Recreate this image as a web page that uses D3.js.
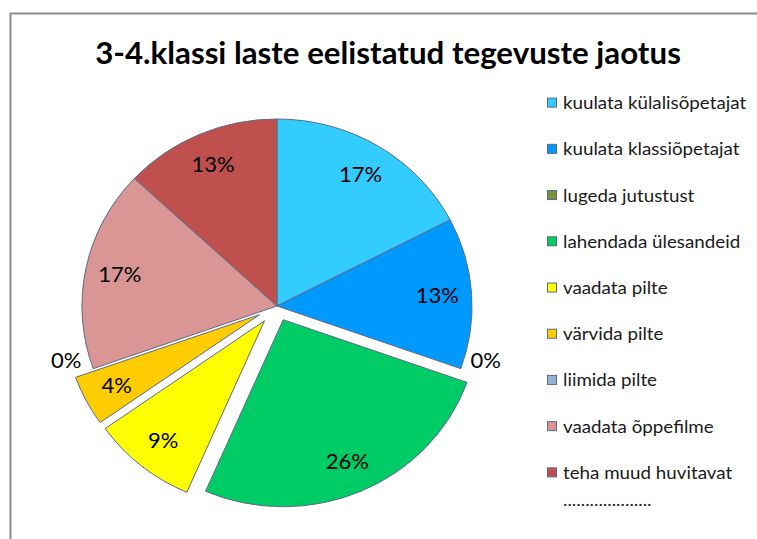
<!DOCTYPE html>
<html>
<head>
<meta charset="utf-8">
<script src="https://cdn.jsdelivr.net/npm/d3@7"></script>
<style>
  body { margin: 0; background: #fff; }
  text { font-family: Lato, "Open Sans", sans-serif; }
</style>
</head>
<body>
<div id="chart"></div>
<script>
// data (counts out of 23 children)
const categories = [
  "kuulata külalisõpetajat",
  "kuulata klassiõpetajat",
  "lugeda jutustust",
  "lahendada ülesandeid",
  "vaadata pilte",
  "värvida pilte",
  "liimida pilte",
  "vaadata õppefilme",
  "teha muud huvitavat"
];
const counts = [4, 3, 0, 6, 2, 1, 0, 4, 3];
const colors = ["#33ccff", "#0099ff", "#77933c", "#00cc66", "#ffff00", "#ffcc00", "#95b3d7", "#d99694", "#c0504d"];
const exploded = [0, 0, 0, 15, 19, 19, 0, 0, 0];
const legendExtra = "....................";
const title = "3-4.klassi laste eelistatud tegevuste jaotus";

let dim = { width: 757, height: 539 };
let cx = 277, cy = 306, radius = 187, stretch = 1.043;

let svg = d3.select("#chart").append("svg")
  .attr("width", dim.width)
  .attr("height", dim.height);

// chart area border (runs off the right and bottom edge)
svg.append("rect")
  .attr("x", 10.5)
  .attr("y", 13.5)
  .attr("width", 800)
  .attr("height", 600)
  .attr("fill", "none")
  .attr("stroke", "#8c8c8c")
  .attr("stroke-width", 2);

svg.append("text")
  .attr("transform", `translate(388,64) scale(${stretch},1)`)
  .attr("text-anchor", "middle")
  .attr("font-size", 30)
  .attr("font-weight", "bold")
  .attr("fill", "#000")
  .text(title);

let total = d3.sum(counts);
let pieData = d3.pie().sort(null).value((d) => d)(counts);
pieData.forEach((d, i) => {
  d.mid = (d.startAngle + d.endAngle) / 2;
  d.off = exploded[i];
});

let arc = d3.arc().innerRadius(0).outerRadius(radius);

let gPie = svg.append("g")
  .attr("transform", `translate(${cx},${cy}) scale(${stretch},1)`);

gPie.selectAll("path")
  .data(pieData.filter((d) => d.value > 0))
  .join("path")
  .attr("d", arc)
  .attr("transform", (d) => `translate(${Math.sin(d.mid) * d.off},${-Math.cos(d.mid) * d.off})`)
  .attr("fill", (d) => colors[d.index])
  .attr("stroke", "#5b6a85")
  .attr("stroke-width", 1)
  .attr("vector-effect", "non-scaling-stroke")
  .attr("stroke-linejoin", "round");

// percentage labels
let gLabels = svg.append("g").attr("transform", `translate(${cx},${cy})`);
let labelR = 154;

gLabels.selectAll("text")
  .data(pieData)
  .join("text")
  .each(function (d) {
    let t = d3.select(this);
    if (d.value > 0) {
      let r = labelR + d.off;
      t.attr("x", Math.sin(d.mid) * r * stretch)
        .attr("y", -Math.cos(d.mid) * r)
        .attr("text-anchor", "middle")
        .attr("dy", "0.35em");
    } else {
      // empty slices get their label just outside the rim
      let r = radius + 10;
      let right = Math.sin(d.mid) > 0;
      t.attr("x", Math.sin(d.mid) * r * stretch + (right ? 0 : -2))
        .attr("y", -Math.cos(d.mid) * r - 12)
        .attr("text-anchor", right ? "start" : "end")
        .attr("dy", "0.35em");
    }
  })
  .attr("font-size", 22)
  .attr("fill", "#000")
  .text((d) => Math.round((d.value / total) * 100) + "%");

// legend
let legendY = d3.scaleBand().domain(categories).range([80, 496]);

let legend = svg.append("g").selectAll("g")
  .data(categories)
  .join("g")
  .attr("transform", (d) => `translate(547,${legendY(d) + legendY.bandwidth() / 2})`);

legend.append("rect")
  .attr("x", 0.5)
  .attr("y", -5)
  .attr("width", 9)
  .attr("height", 9)
  .attr("fill", (d, i) => colors[i])
  .attr("stroke", "#5b6a85")
  .attr("stroke-width", 1);

legend.append("text")
  .attr("transform", `translate(16,6) scale(${stretch},1)`)
  .attr("font-size", 18)
  .attr("fill", "#1a1a1a")
  .text((d) => d);

legend.filter((d, i) => i === categories.length - 1)
  .append("text")
  .attr("transform", `translate(16,33) scale(${stretch},1)`)
  .attr("font-size", 18)
  .attr("fill", "#1a1a1a")
  .text(legendExtra);
</script>
</body>
</html>
